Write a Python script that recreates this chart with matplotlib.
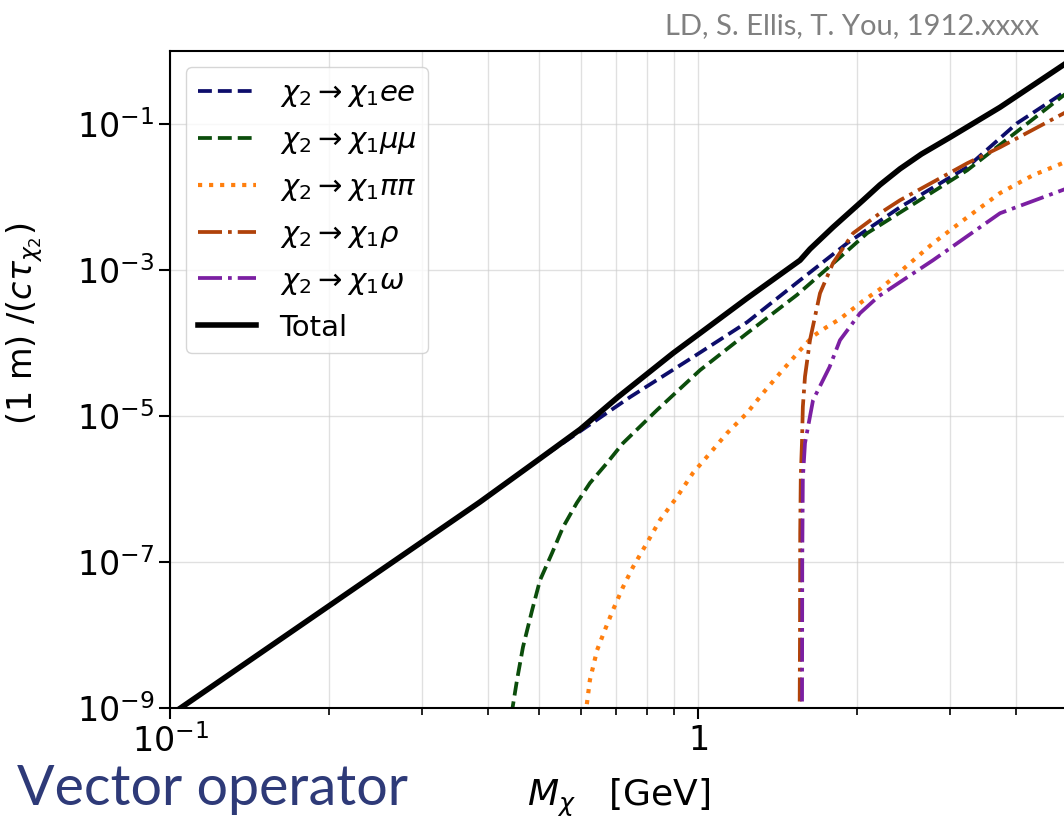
import numpy as np
import matplotlib as mpl
mpl.use("Agg")
from matplotlib import pyplot as plt
from matplotlib import ticker

# chi2 -> chi1 e e
ee_x = [0.1, 0.386, 0.497, 0.565, 0.743, 0.978, 1.239, 1.561, 1.916, 2.414, 3.236, 4.02, 5.0]
ee_y = [8.0e-10, 6.64e-7, 2.49e-6, 4.69e-6, 1.82e-5, 6.43e-5, 1.94e-4, 7.3e-4, 2.34e-3, 7.3e-3, 2.58e-2, 0.103, 0.29]

# chi2 -> chi1 mu mu
mm_x = [0.443, 0.454, 0.466, 0.485, 0.502, 0.529, 0.555, 0.589, 0.624, 0.672, 0.721, 0.836, 1.009,
        1.239, 1.541, 1.858, 2.091, 3.236, 5.0]
mm_y = [8.0e-10, 2.42e-9, 6.85e-9, 2.2e-8, 5.66e-8, 1.33e-7, 3.01e-7, 6.43e-7, 1.21e-6, 2.27e-6, 4.27e-6,
        1.21e-5, 4.27e-5, 1.37e-4, 4.6e-4, 1.5e-3, 3.21e-3, 2.34e-2, 0.27]

# chi2 -> chi1 pi pi
pp_x = [0.612, 0.624, 0.644, 0.666, 0.690, 0.721, 0.753, 0.800, 0.847, 0.912, 0.978, 1.054, 1.135,
        1.238, 1.328, 1.430, 1.561, 1.652, 1.75, 1.858, 2.055, 2.212, 2.414, 2.788, 3.236, 3.735, 4.31, 5.0]
pp_y = [8.0e-10, 2.42e-9, 6.24e-9, 1.17e-8, 2.2e-8, 4.55e-8, 8.55e-8, 1.82e-7, 3.76e-7, 7.76e-7, 1.66e-6,
        3.11e-6, 5.85e-6, 1.1e-5, 2.07e-5, 3.88e-5, 8.0e-5, 1.25e-4, 1.65e-4, 2.15e-4, 3.8e-4, 5.5e-4,
        9.5e-4, 2.34e-3, 5.3e-3, 1.14e-2, 2.0e-2, 3.1e-2]

# chi2 -> chi1 rho
rho_x = [1.556, 1.5605, 1.562, 1.566, 1.574, 1.58, 1.595, 1.630, 1.703, 1.802, 1.967, 2.212, 2.414,
         3.236, 3.735, 5.0]
rho_y = [1e-10, 1e-8, 2.5e-7, 1.5e-6, 4.27e-6, 1.33e-5, 3.5e-5, 1.1e-4, 4.84e-4, 1.25e-3, 3.21e-3,
         6.04e-3, 9.1e-3, 2.92e-2, 4.84e-2, 0.149]

# chi2 -> chi1 omega
om_x = [1.570, 1.5745, 1.576, 1.58, 1.595, 1.652, 1.775, 1.858, 2.028, 2.2, 2.788, 3.735, 5.0]
om_y = [1e-10, 1e-9, 1e-7, 1.4e-6, 4.27e-6, 1.66e-5, 4.7e-5, 1.1e-4, 2.58e-4, 4.4e-4, 1.37e-3,
        6.04e-3, 1.32e-2]

# total width
tot_x = [0.1, 0.386, 0.497, 0.598, 0.705, 0.897, 1.009, 1.239, 1.561, 1.63, 1.802, 2.055, 2.212,
         2.414, 2.65, 3.005, 3.735, 5.0]
tot_y = [8.0e-10, 6.64e-7, 2.49e-6, 6.6e-6, 1.82e-5, 7.3e-5, 1.37e-4, 4.13e-4, 1.37e-3, 1.95e-3,
         3.88e-3, 9.1e-3, 1.48e-2, 2.45e-2, 3.9e-2, 6.64e-2, 0.171, 0.70]

y_ticks = [1e-9, 1e-7, 1e-5, 1e-3, 1e-1]
x_ticks = [0.1, 1]
x_tick_labels = [r"$10^{-1}$", r"$1$"]

fig = plt.figure(figsize=(10.64, 8.21), dpi=100)
ax = fig.add_axes([0.16, 0.1376, 0.8427, 0.7999])
ax.set_xscale("log")
ax.set_yscale("log")

ax.plot(ee_x, ee_y, ls="--", color="#0d0d6b", lw=2.7, label=r"$\chi_2 \rightarrow \chi_1 ee$")
ax.plot(mm_x, mm_y, ls="--", color="#0b4d0b", lw=2.7, label=r"$\chi_2 \rightarrow \chi_1 \mu\mu$")
ax.plot(pp_x, pp_y, ls=":", color="#ff7f0e", lw=3.0, label=r"$\chi_2 \rightarrow \chi_1 \pi\pi$")
ax.plot(rho_x, rho_y, ls="-.", color="#b0420a", lw=2.7, label=r"$\chi_2 \rightarrow \chi_1 \rho$")
ax.plot(om_x, om_y, ls="-.", color="#7b1fa2", lw=2.7, label=r"$\chi_2 \rightarrow \chi_1 \omega$")
ax.plot(tot_x, tot_y, ls="-", color="black", lw=4, label="Total")

ax.set_xlim(0.1, 5.0)
ax.set_ylim(1e-9, 1.0)

ax.yaxis.set_major_locator(ticker.FixedLocator(y_ticks))
ax.yaxis.set_minor_locator(ticker.NullLocator())
ax.xaxis.set_major_locator(ticker.FixedLocator(x_ticks))
ax.xaxis.set_major_formatter(ticker.FixedFormatter(x_tick_labels))
ax.xaxis.set_minor_locator(ticker.LogLocator(base=10, subs=np.arange(2, 10), numticks=20))
ax.xaxis.set_minor_formatter(ticker.NullFormatter())
ax.tick_params(which="major", labelsize=24, length=8, width=1.5)
ax.tick_params(which="minor", length=5, width=1.2)

ax.grid(True, which="both", color="#cccccc", alpha=0.6, lw=1)
for s in ax.spines.values():
    s.set_linewidth(1.5)

ax.set_xlabel(r"$M_\chi$   [GeV]", fontsize=26, labelpad=13)
ax.set_ylabel(r"$(1\ \mathrm{m})\ /(c\tau_{\chi_2})$", fontsize=24)
ax.yaxis.set_label_coords(-0.14, 0.585)

ax.legend(loc="upper left", fontsize=21, framealpha=0.8, borderaxespad=0.55,
          handletextpad=0.8, labelspacing=0.58)

fig.text(0.977, 0.968, "LD, S. Ellis, T. You, 1912.xxxx", ha="right", va="center",
         fontsize=21, color="#808080", family="Lato")
fig.text(0.016, 0.038, "Vector operator", ha="left", va="center",
         fontsize=40, color="#2e3a78", family="Lato")

fig.savefig("out.png", dpi=100)
